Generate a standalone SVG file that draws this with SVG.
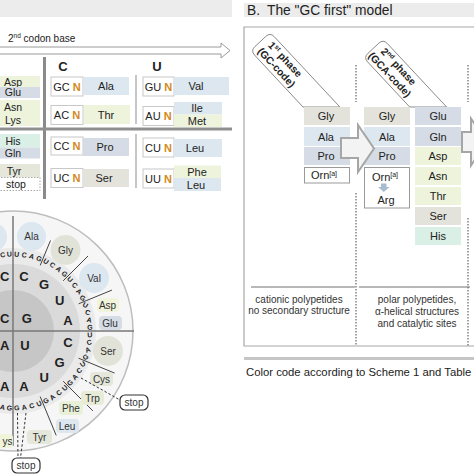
<svg xmlns="http://www.w3.org/2000/svg" width="474" height="474" viewBox="0 0 474 474">
<style>
.t{font-family:"Liberation Sans",Arial,sans-serif;fill:#222}
.lb{font-family:"Liberation Sans",Arial,sans-serif;fill:#222;font-size:10.5px;text-anchor:middle}
.bl{font-family:"Liberation Sans",Arial,sans-serif;fill:#222;font-size:11px;text-anchor:middle}
.wl{font-family:"Liberation Sans",Arial,sans-serif;fill:#333;font-size:10px;text-anchor:middle}
.nb{font-family:"Liberation Sans",Arial,sans-serif;fill:#222;font-size:11px;text-anchor:middle}
.n{fill:#d4891a;font-weight:bold}
.nbox{fill:#fff;stroke:#c8c8c8;stroke-width:1}
.big{font-family:"Liberation Sans",Arial,sans-serif;fill:#222;font-size:13px;font-weight:bold;text-anchor:middle}
.tb{font-family:"Liberation Sans",Arial,sans-serif;fill:#222;font-size:7px;font-weight:bold;text-anchor:middle}
.tab{font-family:"Liberation Sans",Arial,sans-serif;fill:#222;font-size:10.3px;font-weight:bold;text-anchor:middle}
.desc{font-family:"Liberation Sans",Arial,sans-serif;fill:#333;font-size:10px;text-anchor:middle}
.blue{fill:#dde7f0}.yel{fill:#eef3dc}.gb{fill:#d5dce5}.beige{fill:#e3e3dc}.teal{fill:#daefe6}.gg{fill:#e4e7da}
.div{stroke:#444;stroke-width:1}
.dash{stroke:#333;stroke-width:1;stroke-dasharray:2.5 2;fill:none}
.vdash{stroke:#666;stroke-width:1.2;stroke-dasharray:1.5 1.5;fill:none}
.stop{fill:#fff;stroke:#333;stroke-width:1.2}
.arrow{fill:#f3f3f3;stroke:#a6a6a6;stroke-width:2}
</style>

<!-- ===== Panel A: codon table ===== -->
<g id="panelA-header">
<rect x="0" y="0" width="232" height="17" fill="#ececec"/>
<text class="t" x="8" y="42" font-size="10">2<tspan font-size="6.5" dy="-4">nd</tspan><tspan dy="4"> codon base</tspan></text>
<path d="M0,47 H221 V43 L230,50.5 L221,58 V54 H0" fill="#fff" stroke="#9a9a9a" stroke-width="1"/>
<text class="big" x="63" y="71" font-size="10.5">C</text>
<text class="big" x="157" y="71" font-size="10.5">U</text>
</g>
<g id="table-lines">
<line x1="44.5" y1="57" x2="44.5" y2="199" stroke="#8a8a8a" stroke-width="3"/>
<line x1="0" y1="129" x2="232" y2="129" stroke="#8f8f8f" stroke-width="3"/>
<line x1="136" y1="75" x2="136" y2="124" stroke="#a0a0a0" stroke-width="1.2"/>
<line x1="136" y1="134" x2="136" y2="188" stroke="#a0a0a0" stroke-width="1.2"/>
</g>
<g id="col-G">
<rect x="-2" y="76" width="42" height="11" class="yel"/><text class="lb" x="13" y="85.5">Asp</text>
<rect x="-2" y="87" width="42" height="11" class="gb"/><text class="lb" x="13" y="96">Glu</text>
<rect x="-2" y="100" width="42" height="13" class="yel"/><text class="lb" x="13" y="110.5">Asn</text>
<rect x="-2" y="113" width="42" height="13" class="yel"/><text class="lb" x="13" y="123.5">Lys</text>
<rect x="-2" y="134" width="42" height="13.5" class="teal"/><text class="lb" x="13" y="145">His</text>
<rect x="-2" y="147.5" width="42" height="11" class="gb"/><text class="lb" x="13" y="157">Gln</text>
<rect x="-2" y="164" width="42" height="13.5" class="gg"/><text class="lb" x="14" y="175">Tyr</text>
<rect x="-2" y="177.5" width="42" height="13" fill="#fff" stroke="#aaa" stroke-width="1" stroke-dasharray="1.5 1.5"/><text class="lb" x="16" y="188">stop</text>
</g>
<g id="row-GCN"><rect x="51" y="77" width="32" height="19" class="nbox"/><text class="nb" x="67" y="90.5">GC <tspan class="n">N</tspan></text>
<rect x="84" y="77" width="45" height="18" class="blue"/><text class="bl" x="106" y="90">Ala</text></g>
<g id="row-GUN"><rect x="143" y="77" width="31" height="19" class="nbox"/><text class="nb" x="158.5" y="90.5">GU <tspan class="n">N</tspan></text>
<rect x="174" y="77" width="55" height="18" class="blue"/><text class="bl" x="196" y="90">Val</text></g>
<g id="row-ACN"><rect x="51" y="105.5" width="32" height="19" class="nbox"/><text class="nb" x="67" y="119">AC <tspan class="n">N</tspan></text>
<rect x="84" y="105" width="46" height="19" class="yel"/><text class="bl" x="106" y="118.5">Thr</text></g>
<g id="row-AUN"><rect x="143" y="106.5" width="31" height="19" class="nbox"/><text class="nb" x="158.5" y="120">AU <tspan class="n">N</tspan></text>
<rect x="174" y="102" width="48" height="12.5" class="blue"/><text class="bl" x="197" y="112">Ile</text>
<rect x="174" y="114.5" width="48" height="12.5" class="yel"/><text class="bl" x="197" y="125">Met</text></g>
<g id="row-CCN"><rect x="51" y="137" width="32" height="18" class="nbox"/><text class="nb" x="67" y="150">CC <tspan class="n">N</tspan></text>
<rect x="83" y="138" width="46" height="18" class="gb"/><text class="bl" x="105" y="151">Pro</text></g>
<g id="row-CUN"><rect x="143" y="138" width="31" height="19" class="nbox"/><text class="nb" x="158.5" y="151.5">CU <tspan class="n">N</tspan></text>
<rect x="174" y="139" width="48" height="18" class="blue"/><text class="bl" x="195" y="152">Leu</text></g>
<g id="row-UCN"><rect x="51" y="168.5" width="32" height="19" class="nbox"/><text class="nb" x="67" y="182">UC <tspan class="n">N</tspan></text>
<rect x="83" y="169" width="46" height="18" class="beige"/><text class="bl" x="104" y="182">Ser</text></g>
<g id="row-UUN"><rect x="143" y="169" width="31" height="19" class="nbox"/><text class="nb" x="158.5" y="182.5">UU <tspan class="n">N</tspan></text>
<rect x="174" y="165.5" width="47" height="12.5" class="yel"/><text class="bl" x="197" y="175.5">Phe</text>
<rect x="174" y="178" width="47" height="13" class="blue"/><text class="bl" x="196" y="188.5">Leu</text></g>

<!-- ===== Codon wheel ===== -->
<g id="wheel">
<circle cx="13" cy="331" r="120" fill="#f6f6f6" stroke="#bdbdbd" stroke-width="1.5"/>
<circle cx="13" cy="331" r="83" fill="#eaeaea"/>
<circle cx="13" cy="331" r="67" fill="#dadada"/>
<circle cx="13" cy="331" r="41" fill="#c6c6c6"/>
<line x1="13" y1="216" x2="13" y2="446" stroke="#777" stroke-width="1.5"/>
<line x1="0" y1="331" x2="134" y2="331" stroke="#777" stroke-width="1.5"/>
<line class="div" x1="40.2" y1="265.4" x2="50.5" y2="240.5"/>
<line class="div" x1="63.2" y1="280.8" x2="88" y2="256"/>
<line class="div" x1="78.6" y1="303.8" x2="111.9" y2="290.1"/>
<line class="div" x1="78.6" y1="358.2" x2="114.6" y2="373.1"/>
<line class="div" x1="63.2" y1="381.2" x2="92.9" y2="410.9"/>
<line class="div" x1="40.2" y1="396.6" x2="56.2" y2="435.4"/>

<circle cx="-7" cy="237" r="14" class="blue"/>
<circle cx="31.5" cy="236.5" r="14.5" class="blue"/><text class="wl" x="31.5" y="240">Ala</text>
<circle cx="65.5" cy="250" r="15" fill="#e2e3d8"/><text class="wl" x="65.5" y="253.5">Gly</text>
<circle cx="94" cy="278" r="15" class="blue"/><text class="wl" x="94" y="281.5">Val</text>
<rect x="97" y="298" width="22" height="14" rx="4" fill="#eff4da"/><text class="wl" x="107.5" y="308.5">Asp</text>
<rect x="99" y="316" width="23" height="14" rx="4" class="gb"/><text class="wl" x="110" y="326.5">Glu</text>
<circle cx="108" cy="351" r="15" fill="#e2e3d8"/><text class="wl" x="108" y="354.5">Ser</text>
<rect x="90" y="372" width="23" height="14" rx="4" class="gg"/><text class="wl" x="101.5" y="382.5">Cys</text>
<rect x="81" y="391" width="23" height="14" rx="4" fill="#e6ecd6"/><text class="wl" x="92.5" y="401.5">Trp</text>
<rect x="59" y="401" width="24" height="14" rx="4" fill="#e8f0d8"/><text class="wl" x="71" y="411.5">Phe</text>
<rect x="56" y="419" width="23" height="14" rx="4" class="blue"/><text class="wl" x="67" y="429.5">Leu</text>
<rect x="27" y="430" width="25" height="14" rx="4" fill="#e4e8da"/><text class="wl" x="39.5" y="440.5">Tyr</text>
<rect x="-20" y="434" width="33" height="14" rx="4" fill="#eff4da"/><text class="wl" x="7.5" y="444.5">ys</text>

<text class="big" x="26.7" y="323">G</text>
<text class="big" x="4.8" y="323">C</text>
<text class="big" x="25" y="350">U</text>
<text class="big" x="4.8" y="350">A</text>
<text class="big" x="23.9" y="280.8">C</text>
<text class="big" x="44.1" y="289.1">G</text>
<text class="big" x="59.6" y="304.6">U</text>
<text class="big" x="67.9" y="324.8">A</text>
<text class="big" x="67.9" y="346.6">C</text>
<text class="big" x="59.6" y="366.8">G</text>
<text class="big" x="44.1" y="382.3">U</text>
<text class="big" x="23.9" y="390.6">A</text>
<text class="big" x="4.8" y="280.8">C</text>
<text class="big" x="4.8" y="390.6">A</text>

<text class="tb" transform="translate(16.8 254.1) rotate(4.4)" y="2.5">U</text>
<text class="tb" transform="translate(24.2 254.8) rotate(13)" y="2.5">C</text>
<text class="tb" transform="translate(31.8 256.3) rotate(20.8)" y="2.5">A</text>
<text class="tb" transform="translate(39 258.5) rotate(28.1)" y="2.5">G</text>
<text class="tb" transform="translate(45.9 261.4) rotate(34.6)" y="2.5">U</text>
<text class="tb" transform="translate(52.5 264.9) rotate(39.2)" y="2.5">C</text>
<text class="tb" transform="translate(58.9 269.2) rotate(43.2)" y="2.5">A</text>
<text class="tb" transform="translate(64.7 274) rotate(44.8)" y="2.5">G</text>
<text class="tb" transform="translate(70 279.3) rotate(44.8)" y="2.5">U</text>
<text class="tb" transform="translate(74.8 285.1) rotate(43.2)" y="2.5">C</text>
<text class="tb" transform="translate(79.1 291.5) rotate(39.2)" y="2.5">A</text>
<text class="tb" transform="translate(82.6 298.1) rotate(34.6)" y="2.5">G</text>
<text class="tb" transform="translate(85.5 305) rotate(28.1)" y="2.5">U</text>
<text class="tb" transform="translate(87.7 312.2) rotate(20.8)" y="2.5">C</text>
<text class="tb" transform="translate(89.2 319.8) rotate(13)" y="2.5">A</text>
<text class="tb" transform="translate(89.9 327.2) rotate(4.4)" y="2.5">G</text>
<text class="tb" transform="translate(89.9 334.8) rotate(-4.4)" y="2.5">U</text>
<text class="tb" transform="translate(89.2 342.3) rotate(-13)" y="2.5">C</text>
<text class="tb" transform="translate(87.7 349.8) rotate(-20.8)" y="2.5">A</text>
<text class="tb" transform="translate(85.5 357) rotate(-28.1)" y="2.5">G</text>
<text class="tb" transform="translate(82.6 363.9) rotate(-34.6)" y="2.5">U</text>
<text class="tb" transform="translate(79.1 370.5) rotate(-39.2)" y="2.5">C</text>
<text class="tb" transform="translate(74.8 376.9) rotate(-43.2)" y="2.5">A</text>
<text class="tb" transform="translate(70 382.7) rotate(-44.8)" y="2.5">G</text>
<text class="tb" transform="translate(64.7 388) rotate(-44.8)" y="2.5">U</text>
<text class="tb" transform="translate(58.9 392.8) rotate(-43.2)" y="2.5">C</text>
<text class="tb" transform="translate(52.5 397.1) rotate(-39.2)" y="2.5">A</text>
<text class="tb" transform="translate(45.9 400.6) rotate(-34.6)" y="2.5">G</text>
<text class="tb" transform="translate(39 403.5) rotate(-28.1)" y="2.5">U</text>
<text class="tb" transform="translate(31.8 405.7) rotate(-20.8)" y="2.5">C</text>
<text class="tb" transform="translate(24.2 407.2) rotate(-13)" y="2.5">A</text>
<text class="tb" transform="translate(16.8 407.9) rotate(-4.4)" y="2.5">G</text>
<text class="tb" transform="translate(2.6 254.8) rotate(-13)" y="2.5">C</text>
<text class="tb" transform="translate(9.4 254.1) rotate(-4.4)" y="2.5">U</text>
<text class="tb" transform="translate(2.6 407.2) rotate(13)" y="2.5">A</text>
<text class="tb" transform="translate(9.4 407.9) rotate(4.4)" y="2.5">G</text>
</g>
<g id="stop-right"><rect x="120" y="395" width="28" height="15" rx="5" class="stop"/><text class="wl" x="134" y="406" font-size="10.5" fill="#222">stop</text></g>
<g id="stop-bottom"><rect x="12" y="458" width="28" height="15" rx="5" class="stop"/><text class="wl" x="26" y="469" font-size="10.5" fill="#222">stop</text></g>

<!-- ===== Panel B ===== -->
<g id="panelB-title">
<rect x="244" y="3" width="232" height="14" fill="#ececec"/>
<text class="t" x="247" y="15" font-size="13.8">B.</text>
<text class="t" x="267" y="15" font-size="13.8">The "GC first" model</text>
</g>
<g id="panelB-frame">
<path d="M476,27 H244 V346 H476" fill="none" stroke="#a8a8a8" stroke-width="1.2"/>
<line x1="251" y1="287" x2="355" y2="287" stroke="#a0a0a0" stroke-width="1.5"/>
<line x1="359" y1="287" x2="470" y2="287" stroke="#a0a0a0" stroke-width="1.5"/>
<rect x="244" y="357" width="232" height="3" fill="#c6c6c6"/>
</g>

<g id="tab1">
<path d="M303,107 L254.6,55.1 Q250.5,50.7 254.9,46.6 L265.8,36.4 Q270.2,32.3 274.3,36.7 L339.9,107 Z" fill="#fff" stroke="#8a8a8a" stroke-width="1"/>
<g transform="translate(280.9 63.4) rotate(47)">
<text class="tab" x="0" y="-2.4">1<tspan font-size="6.5" dy="-3.8">st</tspan><tspan dy="3.8"> phase</tspan></text>
<text class="tab" x="0" y="9.6">(GC-code)</text>
</g>
</g>
<g id="tab2">
<path d="M409.7,107 L367.6,61.9 Q363.5,57.5 367.9,53.4 L378.8,43.2 Q383.2,39.1 387.3,43.5 L446.6,107 Z" fill="#fff" stroke="#8a8a8a" stroke-width="1"/>
<g transform="translate(394.2 70.6) rotate(47)">
<text class="tab" x="0" y="-2.4">2<tspan font-size="6.5" dy="-3.8">nd</tspan><tspan dy="3.8"> phase</tspan></text>
<text class="tab" x="0" y="9.6">(GCA-code)</text>
</g>
</g>

<g id="phase1">
<rect x="304" y="107" width="46" height="18" class="beige"/><text class="bl" x="326" y="120">Gly</text>
<rect x="304" y="127" width="46" height="19" class="blue"/><text class="bl" x="326" y="140.5">Ala</text>
<rect x="304" y="147" width="46" height="18" class="gb"/><text class="bl" x="326" y="160">Pro</text>
<rect x="304.5" y="167.5" width="45" height="15.5" fill="#fff" stroke="#999" stroke-width="1"/><text class="bl" x="324" y="179">Orn<tspan font-size="7" dy="-3.5">[a]</tspan></text>
</g>
<g id="phase2-col1">
<rect x="364" y="107" width="46" height="18" class="beige"/><text class="bl" x="387" y="120">Gly</text>
<rect x="364" y="127" width="46" height="19" class="blue"/><text class="bl" x="387" y="140.5">Ala</text>
<rect x="364" y="147" width="46" height="18" class="gb"/><text class="bl" x="387" y="160">Pro</text>
<rect x="364.5" y="167.5" width="45" height="40.5" fill="#fff" stroke="#999" stroke-width="1"/>
<text class="bl" x="385" y="180.5">Orn<tspan font-size="7" dy="-3.5">[a]</tspan></text>
<path d="M381,183.5 H386.5 V187 H389.5 L383.75,192 L378,187 H381 Z" fill="#a9bccf"/>
<text class="bl" x="386" y="203.5">Arg</text>
</g>
<g id="phase2-col2">
<rect x="415" y="107" width="46" height="18" class="gb"/><text class="bl" x="438" y="120">Glu</text>
<rect x="415" y="127" width="46" height="19" class="gb"/><text class="bl" x="438" y="140.5">Gln</text>
<rect x="415" y="147" width="46" height="18" class="yel"/><text class="bl" x="438" y="160">Asp</text>
<rect x="415" y="167" width="46" height="18" class="yel"/><text class="bl" x="438" y="180">Asn</text>
<rect x="415" y="187" width="46" height="18" class="yel"/><text class="bl" x="438" y="200">Thr</text>
<rect x="415" y="207" width="46" height="18" class="beige"/><text class="bl" x="438" y="220">Ser</text>
<rect x="415" y="227" width="46" height="18" class="teal"/><text class="bl" x="438" y="240">His</text>
</g>

<g id="connectors">
<line class="dash" x1="81" y1="378" x2="120" y2="400"/>
<line class="dash" x1="17.5" y1="413" x2="18" y2="458"/>
<line class="dash" x1="26" y1="413" x2="20.5" y2="458"/>
<line class="vdash" x1="356" y1="65" x2="356" y2="102"/>
<line class="vdash" x1="356" y1="193" x2="356" y2="346"/>
<line class="vdash" x1="468" y1="65" x2="468" y2="102"/>
<line class="vdash" x1="468" y1="218" x2="468" y2="346"/>
<path class="arrow" d="M341,138 H358 V125 L374,148.5 L358,172 V158 H341 Z"/>
<path class="arrow" d="M462,132 H471 V118.5 L487,142 L471,165.5 V152 H462 Z"/>
</g>

<g id="descriptions">
<text class="desc" x="299" y="302.5">cationic polypetides</text>
<text class="desc" x="299" y="313.5">no secondary structure</text>
<text class="desc" x="417" y="303">polar polypetides,</text>
<text class="desc" x="417" y="315">α-helical structures</text>
<text class="desc" x="417" y="327">and catalytic sites</text>
<text class="t" x="246" y="376" font-size="11.3" fill="#222">Color code according to Scheme 1 and  Table</text>
</g>
</svg>
